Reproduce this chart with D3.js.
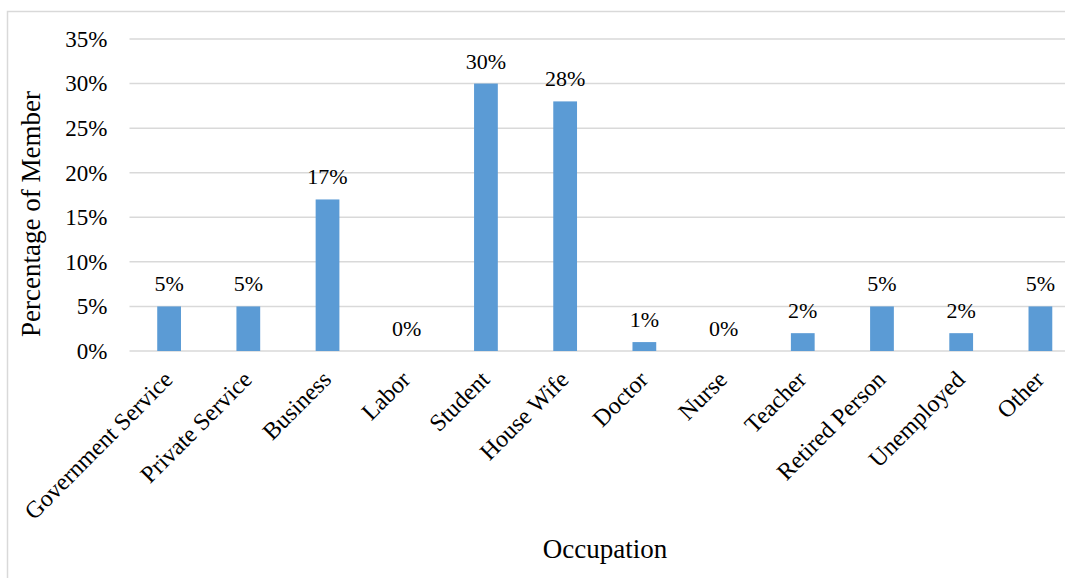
<!DOCTYPE html>
<html><head><meta charset="utf-8">
<script src="https://cdn.jsdelivr.net/npm/d3@7"></script>
<style>html,body{margin:0;padding:0;background:#fff}svg{display:block}text{font-family:"Liberation Serif","Times New Roman",serif;fill:#000}</style>
</head><body>
<svg id="c" width="1065" height="578"></svg>
<script>
const categories = ["Government Service","Private Service","Business","Labor","Student","House Wife","Doctor","Nurse","Teacher","Retired Person","Unemployed","Other"];
const values = [5,5,17,0,30,28,1,0,2,5,2,5];
const yTicks = [0,5,10,15,20,25,30,35];
const yTitle = "Percentage of Member";
const xTitle = "Occupation";

const svg = d3.select("#c");
svg.append("rect").attr("x",7.5).attr("y",11.5).attr("width",1080).attr("height",600)
  .attr("fill","#fff").attr("stroke","#d9d9d9").attr("stroke-width",1.5);

const x = d3.scaleBand().domain(categories).range([129.5,1080]).paddingInner(0.7).paddingOuter(0.35);
const y = d3.scaleLinear().domain([0,35]).range([351,39]);

const grid = svg.append("g");
grid.selectAll("line").data(yTicks).join("line")
  .attr("x1",129.5).attr("x2",1080).attr("y1",d=>y(d)).attr("y2",d=>y(d))
  .attr("stroke","#d9d9d9").attr("stroke-width",1.5);

const yAxis = svg.append("g").attr("transform","translate(129.5,0)")
  .call(d3.axisLeft(y).tickValues(yTicks).tickFormat(d=>d+"%").tickSize(0).tickPadding(22));
yAxis.select(".domain").remove();
yAxis.selectAll("text").attr("font-size",23).attr("font-family","Liberation Serif").attr("fill","#000");

svg.append("g").selectAll("rect").data(values).join("rect")
  .attr("x",(d,i)=>x(categories[i])).attr("width",x.bandwidth())
  .attr("y",d=>y(d)).attr("height",d=>y(0)-y(d)).attr("fill","#5b9bd5");

svg.append("g").selectAll("text").data(values).join("text")
  .attr("x",(d,i)=>x(categories[i])+x.bandwidth()/2).attr("y",d=>y(d)-15)
  .attr("text-anchor","middle").attr("font-size",22).text(d=>d+"%");

const xAxis = svg.append("g").attr("transform","translate(0,351)")
  .call(d3.axisBottom(x).tickSize(0).tickPadding(0));
xAxis.select(".domain").remove();
xAxis.selectAll("text").attr("font-size",24).attr("font-family","Liberation Serif").attr("fill","#000")
  .attr("text-anchor","end").attr("dy",0).attr("y",0)
  .attr("transform","translate(5,30) rotate(-45)");

svg.append("text").attr("x",605).attr("y",558).attr("text-anchor","middle").attr("font-size",27).text(xTitle);
svg.append("text").attr("transform","translate(40,214) rotate(-90)").attr("text-anchor","middle").attr("font-size",27).text(yTitle);
</script>
</body></html>
